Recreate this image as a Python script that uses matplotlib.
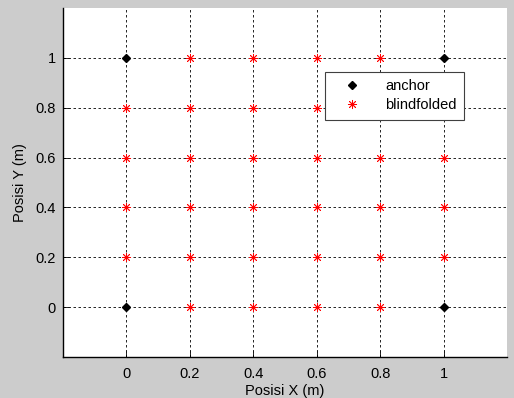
import matplotlib
matplotlib.use("Agg")
import matplotlib.pyplot as plt
import numpy as np

# grid positions (m)
grid_vals = [0, 0.2, 0.4, 0.6, 0.8, 1.0]
anchor_x = [0, 1, 0, 1]
anchor_y = [0, 0, 1, 1]

blind_x = []
blind_y = []
for gx in grid_vals:
    for gy in grid_vals:
        if (gx, gy) in zip(anchor_x, anchor_y):
            continue
        blind_x.append(gx)
        blind_y.append(gy)

x_ticks = [0, 0.2, 0.4, 0.6, 0.8, 1]
x_ticklabels = ["0", "0.2", "0.4", "0.6", "0.8", "1"]
y_ticks = [0, 0.2, 0.4, 0.6, 0.8, 1]
y_ticklabels = ["0", "0.2", "0.4", "0.6", "0.8", "1"]

plt.rcParams['font.family'] = ['Liberation Sans', 'DejaVu Sans']

fig = plt.figure(figsize=(5.14, 3.98), dpi=100, facecolor='#cccccc')
ax = fig.add_axes([0.1226, 0.103, 0.8638, 0.877])
ax.set_facecolor('white')

ax.plot(anchor_x, anchor_y, linestyle='none', marker='D', color='black',
        markersize=4.5, label='anchor', zorder=3)
ax.plot(blind_x, blind_y, linestyle='none', marker=(8, 2, 0), color='red',
        markersize=6.5, markeredgewidth=0.6, label='blindfolded', zorder=3)

ax.set_xlim(-0.2, 1.2)
ax.set_ylim(-0.2, 1.2)
ax.set_xticks(x_ticks)
ax.set_xticklabels(x_ticklabels)
ax.set_yticks(y_ticks)
ax.set_yticklabels(y_ticklabels)
ax.tick_params(direction='in', length=4, width=0.6, labelsize=10.5, pad=5)
ax.tick_params(axis='x', pad=7)

ax.grid(True, color='black', linestyle=(0, (3, 3)), linewidth=0.6)
ax.set_axisbelow(True)

for side in ['top', 'right']:
    ax.spines[side].set_visible(False)
for side in ['left', 'bottom']:
    ax.spines[side].set_linewidth(1.0)

ax.set_xlabel('Posisi X (m)', fontsize=10.5, labelpad=2)
ax.set_ylabel('Posisi Y (m)', fontsize=10.5, labelpad=6)

leg = ax.legend(loc='upper right', bbox_to_anchor=(0.903, 0.817), fontsize=10.5,
                fancybox=False, framealpha=1, edgecolor='#404040',
                borderaxespad=0, borderpad=0.5, handlelength=2.6,
                handletextpad=1.0, labelspacing=0.35)
leg.get_frame().set_linewidth(0.8)

fig.savefig('out.png', dpi=100, facecolor=fig.get_facecolor())
